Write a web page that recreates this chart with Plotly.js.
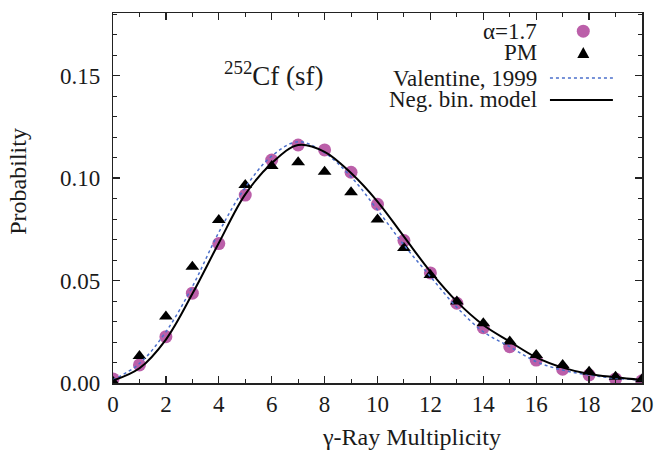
<!DOCTYPE html>
<html>
<head>
<meta charset="utf-8">
<script src="https://cdn.plot.ly/plotly-3.0.1.min.js"></script>
<style>html,body{margin:0;padding:0;background:#fff;}#chart{width:654px;height:455px;}</style>
</head>
<body>
<div id="chart"></div>
<script>
const multiplicity = [0,1,2,3,4,5,6,7,8,9,10,11,12,13,14,15,16,17,18,19,20];
const alpha17 = [0.0020,0.0088,0.0226,0.0438,0.0680,0.0917,0.1088,0.1161,0.1137,0.1028,0.0872,0.0695,0.0537,0.0389,0.0270,0.0177,0.0112,0.0067,0.0039,0.0020,0.0011];
const pm = [0.0006,0.0132,0.0324,0.0567,0.0795,0.0966,0.1059,0.1077,0.1031,0.0930,0.0798,0.0659,0.0527,0.0397,0.0291,0.0202,0.0137,0.0088,0.0055,0.0031,0.0018];
const valentine1999 = [0.0015,0.0095,0.0250,0.0470,0.0735,0.0954,0.1107,0.1177,0.1123,0.1006,0.0844,0.0673,0.0519,0.0369,0.0250,0.0177,0.0104,0.0063,0.0039,0.0023,0.0015];
const negBinModel = [0.0012,0.0072,0.0212,0.0435,0.0683,0.0920,0.1072,0.1161,0.1128,0.1024,0.0885,0.0714,0.0543,0.0397,0.0283,0.0202,0.0125,0.0075,0.0044,0.0028,0.0015];
const legendLabels = ['α=1.7','PM','Valentine, 1999','Neg. bin. model'];
const xTickVals = [0,2,4,6,8,10,12,14,16,18,20];
const yTickVals = [0,0.05,0.10,0.15];
const yTickText = ['0.00','0.05','0.10','0.15'];

const FONT = 'Liberation Serif, Times New Roman, serif';
const purple = '#b44ea0';
const blue = '#4b6fcb';
const txt = '#1a1a1a';

const traces = [
  {x: multiplicity, y: alpha17, mode: 'markers', name: legendLabels[0],
   marker: {symbol: 'circle', size: 13, color: purple, opacity: 0.9}},
  {x: multiplicity, y: pm, mode: 'markers', name: legendLabels[1],
   marker: {symbol: 'triangle-up', size: 12, color: '#000'}},
  {x: multiplicity, y: valentine1999, mode: 'lines', name: legendLabels[2],
   line: {color: blue, width: 1.5, dash: 'dot', shape: 'spline', smoothing: 1}},
  {x: multiplicity, y: negBinModel, mode: 'lines', name: legendLabels[3],
   line: {color: '#000', width: 2, shape: 'spline', smoothing: 1}}
];

// legend geometry (paper coords)
const legTextX = 0.806;
const legY = [0.951, 0.892, 0.824, 0.765];
const legSymX = 0.889;
const legLineX0 = 0.826, legLineX1 = 0.945;

const annotations = [
  {xref:'paper', yref:'paper', x: 0.304, y: 0.835, xanchor:'center', yanchor:'middle', showarrow:false,
   text: '<sup>252</sup>Cf (sf)', font:{family:FONT, size:27, color:txt}},
  {xref:'paper', yref:'paper', x: 0.565, y: -0.146, xanchor:'center', yanchor:'middle', showarrow:false,
   text: 'γ-Ray Multiplicity', font:{family:FONT, size:24, color:txt}},
  {xref:'paper', yref:'paper', x: -0.18, y: 0.546, xanchor:'center', yanchor:'middle', showarrow:false, textangle:-90,
   text: 'Probability', font:{family:FONT, size:24, color:txt}}
];
legendLabels.forEach((t,i)=>{
  annotations.push({xref:'paper', yref:'paper', x: legTextX, y: legY[i], xanchor:'right', yanchor:'middle',
    showarrow:false, text:t, font:{family:FONT, size:23, color:txt}});
});

const shapes = [
  {type:'circle', xref:'paper', yref:'paper', xsizemode:'pixel', ysizemode:'pixel',
   xanchor: legSymX, yanchor: legY[0], x0:-6.5, x1:6.5, y0:-6.5, y1:6.5,
   fillcolor: purple, opacity:0.9, line:{width:0}},
  {type:'path', xref:'paper', yref:'paper', xsizemode:'pixel', ysizemode:'pixel',
   xanchor: legSymX, yanchor: legY[1], path:'M -6,-5 L 6,-5 L 0,6 Z',
   fillcolor:'#000', line:{width:0}},
  {type:'line', xref:'paper', yref:'paper', x0: legLineX0, x1: legLineX1, y0: legY[2], y1: legY[2],
   line:{color: blue, width:1.5, dash:'dot'}},
  {type:'line', xref:'paper', yref:'paper', x0: legLineX0, x1: legLineX1, y0: legY[3], y1: legY[3],
   line:{color:'#000', width:2}}
];

const axisCommon = {
  showline:true, mirror:'allticks', linecolor:'#222', linewidth:1.5,
  ticks:'inside', ticklen:7, tickwidth:1.2, tickcolor:'#222',
  showgrid:false, zeroline:false,
  tickfont:{family:FONT, size:23, color:txt}
};

const layout = {
  width:654, height:455,
  margin:{l:113, r:12, t:13, b:72},
  paper_bgcolor:'#fff', plot_bgcolor:'#fff',
  showlegend:false,
  xaxis: Object.assign({}, axisCommon, {
    range:[0,20], tickvals: xTickVals, ticktext: xTickVals.map(String),
    minor:{dtick:1, ticks:'inside', ticklen:4, tickcolor:'#222', tickwidth:1}
  }),
  yaxis: Object.assign({}, axisCommon, {
    range:[0,0.1805], tickvals: yTickVals, ticktext: yTickText.map(t => t + '\u2009\u200A'),
    minor:{dtick:0.01, tick0:0, ticks:'inside', ticklen:4, tickcolor:'#222', tickwidth:1}
  }),
  annotations: annotations,
  shapes: shapes
};

Plotly.newPlot('chart', traces, layout, {displayModeBar:false, staticPlot:true});
</script>
</body>
</html>
